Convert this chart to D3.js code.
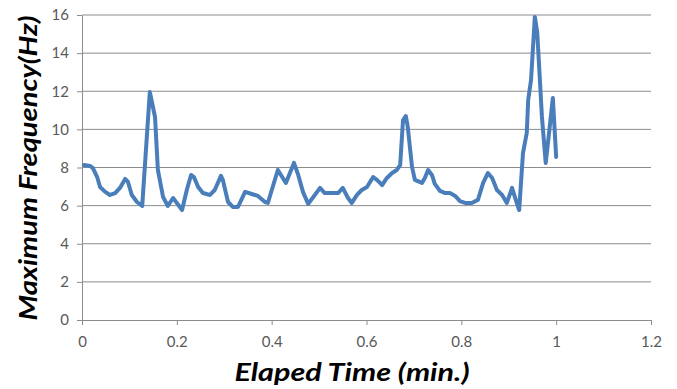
<!DOCTYPE html>
<html>
<head>
<meta charset="utf-8">
<script src="https://cdn.jsdelivr.net/npm/d3@7"></script>
<style>
body { margin: 0; background: #fff; }
svg { display: block; }
.tick-label { font-family: Lato, "Liberation Sans", sans-serif; font-size: 15px; fill: #595959; }
.axis-title { font-family: Lato, "Liberation Sans", sans-serif; font-size: 24px; font-weight: bold; font-style: italic; fill: #000; }
</style>
</head>
<body>
<svg id="chart" width="677" height="389"></svg>
<script>
// data
var elapsed = [0.004, 0.017, 0.023, 0.032, 0.038, 0.049, 0.059, 0.070, 0.080, 0.091,
	0.097, 0.105, 0.116, 0.127, 0.143, 0.154, 0.160, 0.171, 0.181, 0.192,
	0.200, 0.211, 0.221, 0.230, 0.236, 0.245, 0.255, 0.270, 0.280, 0.293,
	0.297, 0.308, 0.318, 0.329, 0.344, 0.358, 0.371, 0.386, 0.392, 0.413,
	0.430, 0.447, 0.456, 0.466, 0.477, 0.491, 0.502, 0.512, 0.527, 0.540,
	0.550, 0.561, 0.569, 0.580, 0.590, 0.601, 0.614, 0.622, 0.633, 0.643,
	0.654, 0.664, 0.671, 0.677, 0.683, 0.687, 0.696, 0.702, 0.717, 0.723,
	0.730, 0.738, 0.744, 0.755, 0.766, 0.776, 0.787, 0.797, 0.808, 0.822,
	0.835, 0.846, 0.856, 0.865, 0.875, 0.886, 0.896, 0.907, 0.913, 0.922,
	0.930, 0.938, 0.941, 0.947, 0.955, 0.960, 0.970, 0.978, 0.985, 0.993,
	1.0];
var maxFreq = [8.13, 8.08, 7.97, 7.50, 6.98, 6.72, 6.56, 6.66, 6.93, 7.40,
	7.24, 6.56, 6.19, 5.98, 11.96, 10.65, 7.87, 6.45, 5.98, 6.40,
	6.14, 5.77, 6.82, 7.61, 7.50, 6.98, 6.66, 6.56, 6.82, 7.56,
	7.35, 6.19, 5.93, 5.93, 6.72, 6.61, 6.51, 6.19, 6.14, 7.87,
	7.19, 8.24, 7.61, 6.72, 6.09, 6.56, 6.93, 6.66, 6.66, 6.66,
	6.93, 6.40, 6.14, 6.56, 6.82, 6.98, 7.50, 7.35, 7.08, 7.45,
	7.71, 7.87, 8.13, 10.49, 10.70, 10.13, 8.03, 7.35, 7.19, 7.45,
	7.87, 7.61, 7.14, 6.77, 6.66, 6.66, 6.51, 6.24, 6.14, 6.14,
	6.30, 7.19, 7.71, 7.45, 6.82, 6.56, 6.14, 6.93, 6.45, 5.77,
	8.76, 9.81, 11.54, 12.59, 15.90, 15.11, 10.65, 8.24, 9.81, 11.65,
	8.55];
var xTicks = [0, 0.2, 0.4, 0.6, 0.8, 1, 1.2];
var yTicks = [0, 2, 4, 6, 8, 10, 12, 14, 16];
var xTitle = "Elaped Time (min.)";
var yTitle = "Maximum Frequency(Hz)";

var LEFT = 82, RIGHT = 651, TOP = 15, BOTTOM = 320;

var svg = d3.select("#chart");
var x = d3.scaleLinear().domain([0, 1.2]).range([LEFT, RIGHT]);
var y = d3.scaleLinear().domain([0, 16]).range([BOTTOM, TOP]);

// gridlines
svg.append("g").selectAll("line").data(yTicks.filter(function(d){return d > 0;})).enter()
	.append("line")
	.attr("x1", LEFT).attr("x2", RIGHT)
	.attr("y1", function(d){return y(d);}).attr("y2", function(d){return y(d);})
	.attr("stroke", "#8c8c8c").attr("stroke-width", 1);

// y axis
var yAxis = svg.append("g")
	.attr("transform", "translate(" + LEFT + ",0)")
	.call(d3.axisLeft(y).tickValues(yTicks).tickSize(5).tickSizeOuter(0).tickPadding(8));
// x axis
var xAxis = svg.append("g")
	.attr("transform", "translate(0," + BOTTOM + ")")
	.call(d3.axisBottom(x).tickValues(xTicks).tickSize(5).tickSizeOuter(0).tickPadding(11)
		.tickFormat(function(d){return String(d);}));

[yAxis, xAxis].forEach(function(a){
	a.select(".domain").attr("stroke", "#8c8c8c");
	a.selectAll(".tick line").attr("stroke", "#8c8c8c");
	a.selectAll(".tick text").attr("class", "tick-label").attr("fill", null);
});

// the series
var line = d3.line()
	.x(function(d){return x(d[0]);})
	.y(function(d){return y(d[1]);});
svg.append("path")
	.datum(d3.zip(elapsed, maxFreq))
	.attr("d", line)
	.attr("fill", "none")
	.attr("stroke", "#4a7ebb")
	.attr("stroke-width", 4)
	.attr("stroke-linejoin", "round")
	.attr("stroke-linecap", "round");

// titles
svg.append("text")
	.attr("class", "axis-title")
	.attr("text-anchor", "middle")
	.attr("x", 352).attr("y", 381)
	.attr("textLength", 235).attr("lengthAdjust", "spacingAndGlyphs")
	.text(xTitle);
svg.append("text")
	.attr("class", "axis-title")
	.attr("text-anchor", "middle")
	.attr("transform", "translate(37,168) rotate(-90)")
	.attr("textLength", 305).attr("lengthAdjust", "spacingAndGlyphs")
	.text(yTitle);
</script>
</body>
</html>
